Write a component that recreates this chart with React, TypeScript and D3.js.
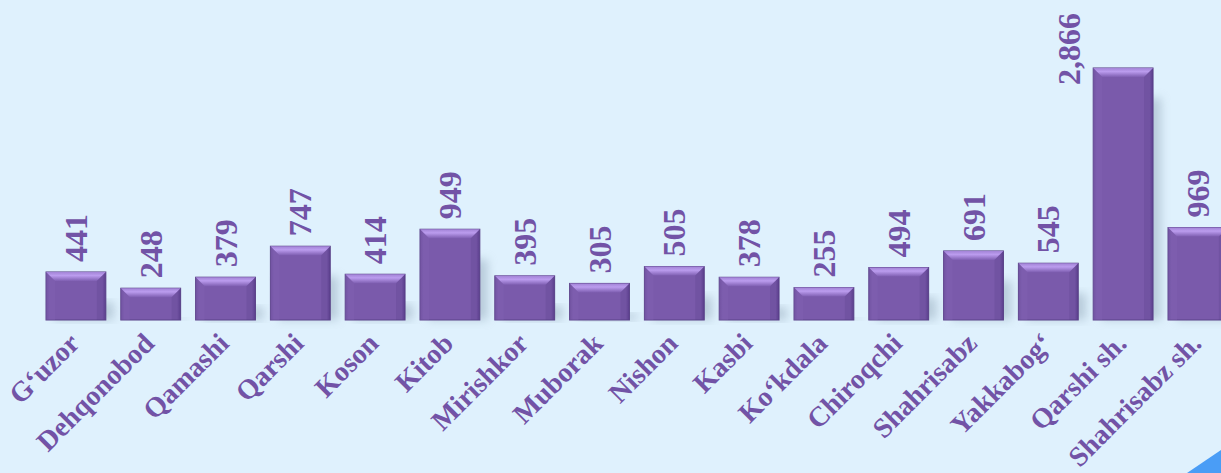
import React from "react";
import * as d3 from "d3";

const categories = [
  "G\u2018uzor", "Dehqonobod", "Qamashi", "Qarshi", "Koson", "Kitob", "Mirishkor", "Muborak",
  "Nishon", "Kasbi", "Ko\u2018kdala", "Chiroqchi", "Shahrisabz", "Yakkabog\u2018", "Qarshi sh.", "Shahrisabz sh.",
];
const values = [441, 248, 379, 747, 414, 949, 395, 305, 505, 378, 255, 494, 691, 545, 2866, 969];

const W = 1221;
const H = 473;
const BG = "#dff1fd";
const TEXT = "#7253a6";
const FONT = "'Liberation Serif', 'Times New Roman', serif";

export default function App() {
  const x = d3.scaleBand<string>().domain(categories).range([46, 46 + 15.8 * 74.8]).paddingInner(0.2).paddingOuter(0);
  const y = d3.scaleLinear().domain([-130, 3000]).range([320, 56.7]);
  const base = y(-130);
  const fmt = d3.format(",");
  const bw = x.bandwidth();
  const bev = 9;

  return (
    <div style={{ position: "fixed", left: 0, top: 0, width: W, height: H, background: BG }}>
      <svg width={W} height={H} style={{ display: "block" }}>
        <defs>
          <linearGradient id="barBody" x1="0" x2="1" y1="0" y2="0">
            <stop offset="0" stopColor="#6a4b9a" />
            <stop offset="0.06" stopColor="#7a5aab" />
            <stop offset="0.94" stopColor="#7a5aab" />
            <stop offset="1" stopColor="#5e4190" />
          </linearGradient>
          <linearGradient id="barTop" x1="0" x2="0" y1="0" y2="1">
            <stop offset="0" stopColor="#a283d6" />
            <stop offset="0.4" stopColor="#bb9cee" />
            <stop offset="1" stopColor="#7f5fb2" />
          </linearGradient>
          <filter id="shadow" x="-50%" y="-20%" width="200%" height="140%">
            <feGaussianBlur stdDeviation="5" />
          </filter>
        </defs>
        <rect x={0} y={0} width={W} height={H} fill={BG} />
        {categories.map((c, i) => {
          const x0 = x(c)!;
          const top = y(values[i]);
          const h = base - top;
          return (
            <g key={c}>
              <rect x={x0 + 8} y={top + 30} width={bw} height={Math.max(0, h - 30)} fill="#9fb3c4" opacity={0.6} filter="url(#shadow)" />
              <rect x={x0} y={top} width={bw} height={h} fill="url(#barBody)" stroke="#5b4389" strokeWidth={1} />
              <polygon
                points={`${x0},${top} ${x0 + bw},${top} ${x0 + bw - bev},${top + bev} ${x0 + bev},${top + bev}`}
                fill="url(#barTop)"
              />
              <polygon
                points={`${x0},${top} ${x0 + bev},${top + bev} ${x0 + bev},${base} ${x0},${base}`}
                fill="#8566b6" opacity={0.3}
              />
              <polygon
                points={`${x0 + bw},${top} ${x0 + bw - bev},${top + bev} ${x0 + bw - bev},${base} ${x0 + bw},${base}`}
                fill="#4f3580" opacity={0.2}
              />
            </g>
          );
        })}
        {categories.map((c, i) => {
          const cx = x(c)! + bw / 2;
          const top = y(values[i]);
          const outside = top - 10 - 75 < 0;
          const tx = outside ? cx - 43 : cx + 11;
          const ty = outside ? top + 17 : top - 10;
          return (
            <text
              key={"v" + c}
              transform={`translate(${tx},${ty}) rotate(-90)`}
              fontFamily={FONT}
              fontWeight="bold"
              fontSize={32}
              fill={TEXT}
              textAnchor="start"
            >
              {fmt(values[i])}
            </text>
          );
        })}
        {categories.map((c) => {
          const cx = x(c)! + bw / 2;
          return (
            <text
              key={"c" + c}
              transform={`translate(${cx + 5},${345}) rotate(-45)`}
              fontFamily={FONT}
              fontWeight="bold"
              fontSize={28}
              fill={TEXT}
              textAnchor="end"
            >
              {c}
            </text>
          );
        })}
        <polygon points={`${1187},${H} ${W},${H} ${W},${450}`} fill="#4a9df6" />
      </svg>
    </div>
  );
}
